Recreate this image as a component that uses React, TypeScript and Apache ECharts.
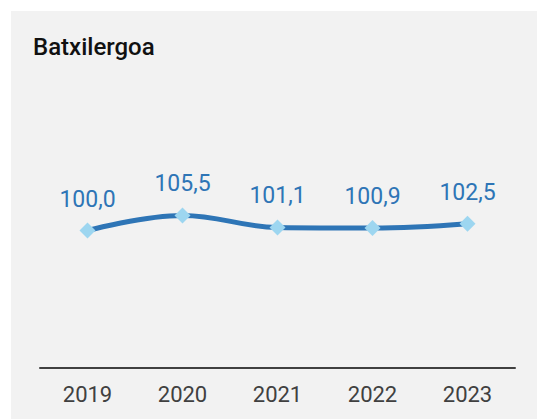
import React, { useEffect, useRef } from "react";
import * as echarts from "echarts";

const title = "Batxilergoa";
const years = ["2019", "2020", "2021", "2022", "2023"];
const values = [100.0, 105.5, 101.1, 100.9, 102.5];

export default function App() {
  const ref = useRef<HTMLDivElement>(null);
  useEffect(() => {
    if (!ref.current) return;
    const chart = echarts.init(ref.current, null, { renderer: "svg" });
    chart.setOption({
      animation: false,
      backgroundColor: "#ffffff",
      textStyle: { fontFamily: "Roboto" },
      graphic: [
        {
          type: "rect",
          z: -10,
          shape: { x: 11, y: 11, width: 526, height: 408 },
          style: { fill: "#f2f2f2" },
          silent: true,
        },
        {
          type: "text",
          x: 33,
          y: 47,
          style: {
            text: title,
            fontFamily: "Roboto",
            fontSize: 24,
            fontWeight: 500,
            fill: "#111111",
            verticalAlign: "middle",
            align: "left",
          },
        },
      ],
      grid: { left: 40, right: 22, top: 93.5, bottom: 51.5 },
      xAxis: {
        type: "category",
        data: years,
        boundaryGap: true,
        axisLine: { show: true, lineStyle: { color: "#404040", width: 2 } },
        axisTick: { show: false },
        splitLine: { show: false },
        axisLabel: {
          color: "#404040",
          fontSize: 22,
          fontFamily: "Roboto",
          margin: 16,
        },
      },
      yAxis: {
        type: "value",
        min: 50,
        max: 150,
        show: false,
        splitLine: { show: false },
      },
      series: [
        {
          type: "line",
          data: values,
          smooth: 0.4,
          symbol: "diamond",
          symbolSize: 16,
          itemStyle: { color: "#9dd6f0" },
          lineStyle: { color: "#2e75b6", width: 5 },
          label: {
            show: true,
            position: "top",
            distance: 12,
            color: "#2e75b6",
            fontSize: 23,
            fontFamily: "Roboto",
            formatter: (p: any) => p.value.toFixed(1).replace(".", ","),
          },
        },
      ],
    });
    return () => chart.dispose();
  }, []);
  return (
    <div
      ref={ref}
      style={{ position: "absolute", left: 0, top: 0, width: 537, height: 419 }}
    />
  );
}
